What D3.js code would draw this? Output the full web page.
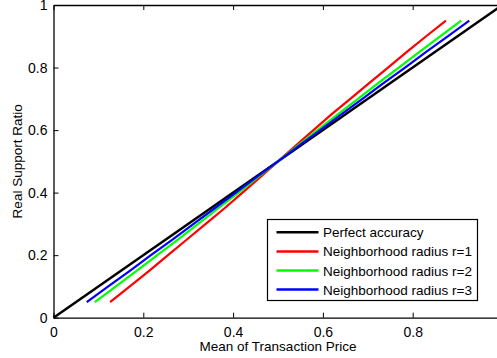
<!DOCTYPE html>
<html>
<head>
<meta charset="utf-8">
<script src="https://cdn.jsdelivr.net/npm/d3@7"></script>
<style>
  body { margin: 0; background: #fff; }
  svg { display: block; font-family: "Liberation Sans", Arial, sans-serif; }
</style>
</head>
<body>
<div id="chart"></div>
<script>
// values
var ratio = [0.05, 0.1, 0.15, 0.2, 0.25, 0.3, 0.35, 0.4, 0.45, 0.5,
             0.55, 0.6, 0.65, 0.7, 0.75, 0.8, 0.85, 0.9, 0.95];
var priceR1 = [0.126, 0.17, 0.213, 0.255, 0.297, 0.339, 0.381, 0.421, 0.461, 0.5,
               0.539, 0.579, 0.619, 0.661, 0.703, 0.745, 0.787, 0.83, 0.874];
var priceR2 = [0.092, 0.139, 0.185, 0.231, 0.277, 0.322, 0.367, 0.412, 0.456, 0.5,
               0.544, 0.588, 0.633, 0.678, 0.723, 0.769, 0.815, 0.861, 0.908];
var priceR3 = [0.074, 0.122, 0.17, 0.217, 0.265, 0.312, 0.359, 0.406, 0.453, 0.5,
               0.547, 0.594, 0.641, 0.688, 0.735, 0.783, 0.83, 0.878, 0.926];
var perfect = [0, 1];
var seriesNames = ["Perfect accuracy", "Neighborhood radius r=1",
                   "Neighborhood radius r=2", "Neighborhood radius r=3"];
var xTickVals = [0, 0.2, 0.4, 0.6, 0.8];
var yTickVals = [0, 0.2, 0.4, 0.6, 0.8, 1];

var W = 497, H = 358;
var margin = {left: 53.5, top: 5, right: 502.5, bottom: 317.7};

var svg = d3.select("#chart").append("svg")
	.attr("width", W).attr("height", H);

var x = d3.scaleLinear().domain([0, 1]).range([margin.left, margin.right]);
var y = d3.scaleLinear().domain([0, 1]).range([margin.bottom, margin.top]);

//axes - matlab style, ticks inward
var fmt = function(d) { return d == 0 ? "0" : d == 1 ? "1" : d3.format(".1f")(d); };

var xAxis = svg.append("g")
	.attr("transform", "translate(0," + margin.bottom + ")")
	.call(d3.axisBottom(x).tickValues(xTickVals).tickSizeInner(-5).tickSizeOuter(0).tickPadding(9).tickFormat(fmt));
var xTop = svg.append("g")
	.attr("transform", "translate(0," + margin.top + ")")
	.call(d3.axisTop(x).tickValues(xTickVals).tickSizeInner(-5).tickSizeOuter(0).tickFormat(""));
var yAxis = svg.append("g")
	.attr("transform", "translate(" + margin.left + ",0)")
	.call(d3.axisLeft(y).tickValues(yTickVals).tickSizeInner(-5).tickSizeOuter(0).tickPadding(6).tickFormat(fmt));

svg.selectAll(".domain").attr("stroke", "#000").attr("stroke-width", 1.3);
svg.selectAll(".tick line").attr("stroke", "#000").attr("stroke-width", 1);
svg.selectAll(".tick text").attr("font-size", 14).attr("fill", "#000")
	.attr("font-family", "'Liberation Sans', Arial, sans-serif");

svg.append("text")
	.attr("x", (margin.left + margin.right) / 2).attr("y", 351)
	.attr("text-anchor", "middle").attr("font-size", 13.5)
	.text("Mean of Transaction Price");
svg.append("text")
	.attr("transform", "translate(22," + ((margin.top + margin.bottom) / 2) + ") rotate(-90)")
	.attr("text-anchor", "middle").attr("font-size", 13.5)
	.text("Real Support Ratio");

var line = d3.line()
	.x(function(d) { return x(d[0]); })
	.y(function(d) { return y(d[1]); });

var series = [
	{name: seriesNames[0], color: "#000", pts: perfect.map(function(v) { return [v, v]; })},
	{name: seriesNames[1], color: "#ff0000", pts: priceR1.map(function(v, i) { return [v, ratio[i]]; })},
	{name: seriesNames[2], color: "#00ff00", pts: priceR2.map(function(v, i) { return [v, ratio[i]]; })},
	{name: seriesNames[3], color: "#0000ff", pts: priceR3.map(function(v, i) { return [v, ratio[i]]; })}
];

svg.append("g").selectAll("path")
	.data(series)
	.enter()
	.append("path")
	.attr("d", function(d) { return line(d.pts); })
	.attr("fill", "none")
	.attr("stroke", function(d) { return d.color; })
	.attr("stroke-width", function(d, i) { return i == 0 ? 2.5 : 2.2; });

// legend
var lg = svg.append("g");
lg.append("rect")
	.attr("x", 267.5).attr("y", 219.5).attr("width", 210).attr("height", 81)
	.attr("fill", "#fff").attr("stroke", "#000").attr("stroke-width", 1.2);
var item = lg.selectAll("g.item")
	.data(series)
	.enter()
	.append("g")
	.attr("transform", function(d, i) { return "translate(0," + (232.3 + i * 19.1) + ")"; });
item.append("line")
	.attr("x1", 276.5).attr("x2", 318.5)
	.attr("stroke", function(d) { return d.color; })
	.attr("stroke-width", 2.5);
item.append("text")
	.attr("x", 323).attr("y", 5)
	.attr("font-size", 13.5)
	.text(function(d) { return d.name; });
</script>
</body>
</html>
